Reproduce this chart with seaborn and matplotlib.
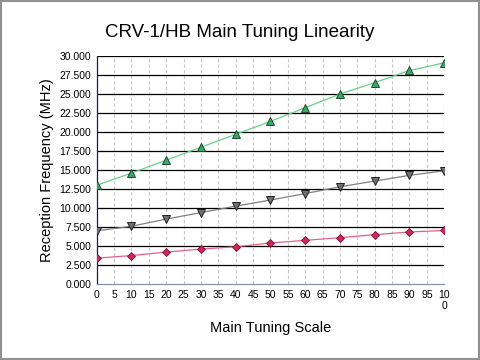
import matplotlib
matplotlib.use("Agg")
import matplotlib.pyplot as plt
from matplotlib.patches import Rectangle
import seaborn as sns
import pandas as pd

scale = [0, 10, 20, 30, 40, 50, 60, 70, 80, 90, 100]
band_high = [13.0, 14.6, 16.3, 18.0, 19.7, 21.4, 23.2, 25.0, 26.5, 28.1, 29.1]
band_mid = [7.0, 7.6, 8.55, 9.4, 10.25, 11.05, 11.9, 12.8, 13.55, 14.3, 14.9]
band_low = [3.4, 3.75, 4.2, 4.6, 4.9, 5.4, 5.75, 6.1, 6.5, 6.85, 7.05]

title = "CRV-1/HB Main Tuning Linearity"
xlabel = "Main Tuning Scale"
ylabel = "Reception Frequency (MHz)"
xticks = list(range(0, 101, 5))
xticklabels = [str(v) for v in xticks[:-1]] + ["10\n0"]
yticks = [i * 2.5 for i in range(13)]
yticklabels = [f"{v:.3f}" for v in yticks]

sns.set_theme(style="white")
plt.rcParams['font.family'] = ['Liberation Sans', 'DejaVu Sans']

fig = plt.figure(figsize=(4.8, 3.6), dpi=100)
ax = fig.add_axes([0.2015, 0.211, 0.724, 0.6334])

# grid lines
for v in xticks[1:]:
    ax.axvline(v, color="#c8c8c8", lw=0.8, ls=(0, (3, 2)), zorder=0)
for v in yticks[1:]:
    ax.axhline(v, color="#000000", lw=0.9, zorder=0.5)

df = pd.DataFrame({"scale": scale, "high": band_high, "mid": band_mid, "low": band_low})

sns.lineplot(data=df, x="scale", y="high", ax=ax, color="#66d08a", lw=0.9,
             marker="^", markersize=5.5, markerfacecolor="#3aa866",
             markeredgecolor="#1e4a2a", markeredgewidth=0.7, zorder=3)
sns.lineplot(data=df, x="scale", y="mid", ax=ax, color="#808080", lw=0.9,
             marker="v", markersize=5.5, markerfacecolor="#707070",
             markeredgecolor="#202020", markeredgewidth=0.7, zorder=3)
sns.lineplot(data=df, x="scale", y="low", ax=ax, color="#e8608a", lw=0.9,
             marker="D", markersize=4.2, markerfacecolor="#d02858",
             markeredgecolor="#801030", markeredgewidth=0.6, zorder=3)

ax.set_xlim(0, 100)
ax.set_ylim(0, 30)
ax.set_xticks(xticks)
ax.set_xticklabels(xticklabels, fontsize=7.5)
ax.set_yticks(yticks)
ax.set_yticklabels(yticklabels, fontsize=7.5)
ax.tick_params(length=0, pad=4, colors="#000000")

for s in ["top", "right"]:
    ax.spines[s].set_visible(False)
ax.spines["left"].set_color("#1a1a50")
ax.spines["left"].set_linestyle((0, (2, 1)))
ax.spines["left"].set_linewidth(0.9)
ax.spines["bottom"].set_color("#8890a8")
ax.spines["bottom"].set_linestyle((0, (2, 1)))
ax.spines["bottom"].set_linewidth(0.9)
ax.axvline(100, color="#c8c8c8", lw=0.8, ls=(0, (3, 2)), zorder=0)

ax.set_xlabel(xlabel, fontsize=10.5, labelpad=7, color="#000000")
ax.set_ylabel(ylabel, fontsize=10.5, labelpad=4, color="#000000")
fig.text(0.5, 0.91, title, ha="center", va="center", fontsize=13.5, color="#000000")

fig.patches.append(Rectangle((0.002, 0.003), 0.996, 0.994, transform=fig.transFigure,
                             fill=False, edgecolor="#909090", lw=1.5))

fig.savefig("out.png", dpi=100)
